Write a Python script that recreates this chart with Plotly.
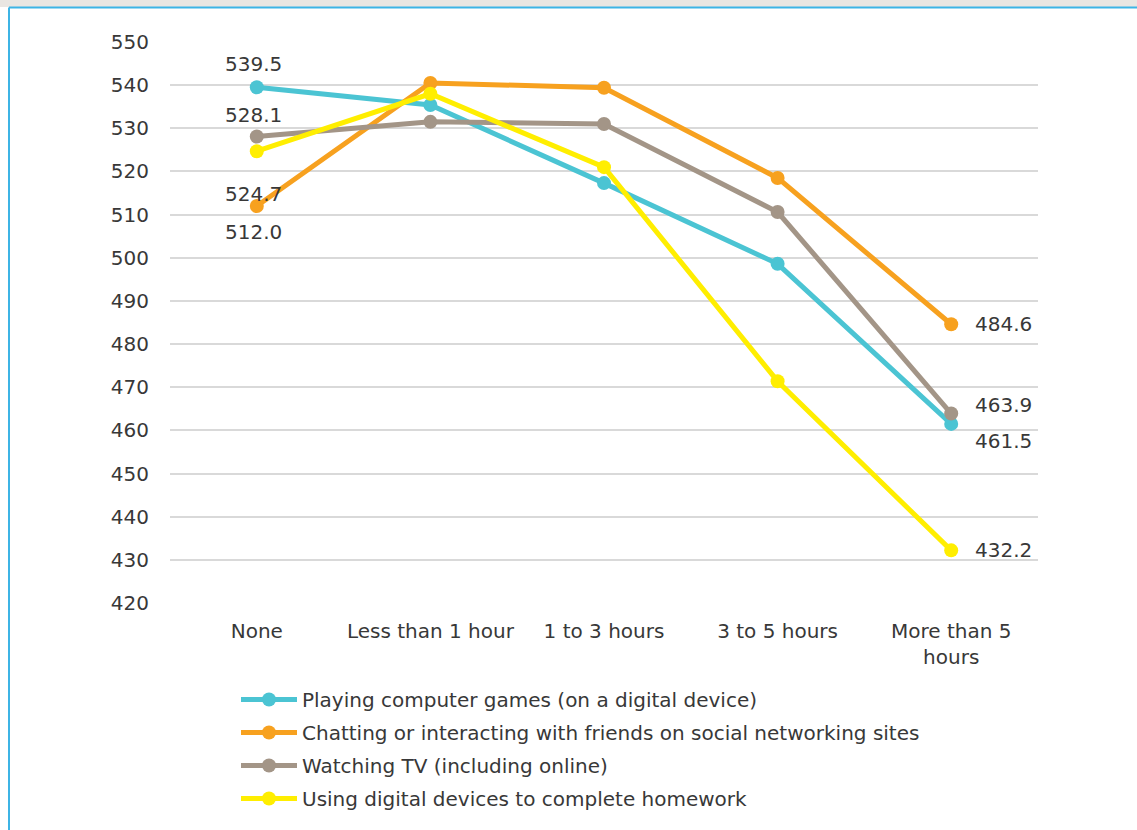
import plotly.graph_objects as go

# Time spent per day on each activity (categories along x)
categories = ["None", "Less than 1 hour", "1 to 3 hours", "3 to 5 hours", "More than 5<br>hours"]

games = [539.5, 535.4, 517.3, 498.6, 461.5]
chatting = [512.0, 540.5, 539.4, 518.5, 484.6]
tv = [528.1, 531.5, 531.0, 510.6, 463.9]
homework = [524.7, 538.0, 521.0, 471.4, 432.2]

series_names = [
    "Playing computer games (on a digital device)",
    "Chatting or interacting with friends on social networking sites",
    "Watching TV (including online)",
    "Using digital devices to complete homework",
]
series_values = [games, chatting, tv, homework]
series_colors = ["#4BC4D3", "#F7A11F", "#A39587", "#FFEE00"]

y_ticks = list(range(420, 551, 10))

# pixel offsets of the value labels for the first and last point of each series
first_shift = [23, -26, 22, -43]
last_shift = [-17, 0, 9, 0]

FONT = "DejaVu Sans, Liberation Sans, Arial, sans-serif"
TEXT = "#383838"
FS = 20

W, H = 1137, 830
ML, MR, MT, MB = 170, 99, 42, 227

fig = go.Figure()
annotations = []
for i, (name, vals, color) in enumerate(zip(series_names, series_values, series_colors)):
    fig.add_trace(go.Scatter(
        x=categories, y=vals, name=name, mode="lines+markers",
        line=dict(color=color, width=5),
        marker=dict(color=color, size=14),
        legendgroup=f"g{i}",
        cliponaxis=False,
    ))
    annotations.append(dict(
        x=categories[0], y=vals[0], xref="x", yref="y", text=f"{vals[0]:.1f}",
        showarrow=False, xanchor="center", yanchor="middle", xshift=-3, yshift=first_shift[i],
        font=dict(family=FONT, size=FS, color=TEXT),
    ))
    annotations.append(dict(
        x=categories[-1], y=vals[-1], xref="x", yref="y", text=f"{vals[-1]:.1f}",
        showarrow=False, xanchor="left", yanchor="middle", xshift=22, yshift=last_shift[i],
        font=dict(family=FONT, size=FS, color=TEXT),
    ))

pw = W - ML - MR
ph = H - MT - MB


def px_x(px):
    return (px - ML) / pw


def px_y(py):
    return (H - MB - py) / ph


shapes = [
    # grey band across the top edge
    dict(type="rect", xref="paper", yref="paper", x0=px_x(0), x1=px_x(W), y0=px_y(7), y1=px_y(0),
         fillcolor="#E9E6E2", line=dict(width=0), layer="below"),
    # blue frame lines
    dict(type="line", xref="paper", yref="paper", x0=px_x(9), x1=px_x(W), y0=px_y(7.5), y1=px_y(7.5),
         line=dict(color="#3DB4E5", width=2)),
    dict(type="line", xref="paper", yref="paper", x0=px_x(9), x1=px_x(9), y0=px_y(7.5), y1=px_y(H),
         line=dict(color="#3DB4E5", width=2)),
]

fig.update_layout(
    width=W, height=H,
    margin=dict(l=ML, r=MR, t=MT, b=MB),
    paper_bgcolor="white", plot_bgcolor="white",
    font=dict(family=FONT, size=FS, color=TEXT),
    showlegend=True,
    legend=dict(
        x=px_x(236), y=px_y(680), xanchor="left", yanchor="top",
        font=dict(family=FONT, size=FS, color=TEXT),
        itemwidth=56, bgcolor="rgba(0,0,0,0)",
        traceorder="grouped", tracegroupgap=4,
    ),
    xaxis=dict(
        type="category", range=[-0.5, 4.5], showgrid=False, showline=False, zeroline=False,
        ticks="", ticklabelstandoff=14, tickfont=dict(family=FONT, size=FS, color=TEXT),
    ),
    yaxis=dict(
        range=[420, 550], tickvals=y_ticks, showgrid=True, gridcolor="#D9D9D9", gridwidth=1.5,
        zeroline=False, showline=False, ticks="", ticklabelstandoff=20,
        tickfont=dict(family=FONT, size=FS, color=TEXT),
    ),
    annotations=annotations,
    shapes=shapes,
)

fig.write_html("out.html")
